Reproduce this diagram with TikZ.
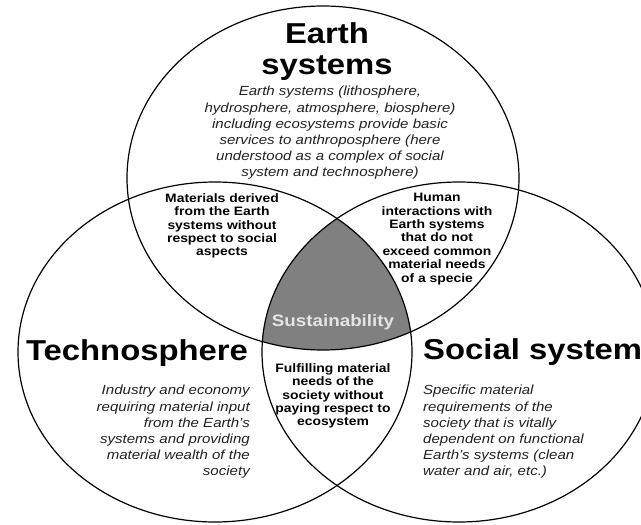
\documentclass[tikz,border=0pt]{standalone}
\usepackage{fontspec}
\setmainfont{Liberation Sans}[FakeStretch=1.14]
\usetikzlibrary{shapes.geometric}
\definecolor{susgray}{HTML}{808080}
\definecolor{suslight}{HTML}{E4E4E4}
\definecolor{desc}{HTML}{222222}
\tikzset{
  ring/.style={ellipse, draw=black, line width=1.2pt, inner sep=0pt, minimum width=394pt, minimum height=342pt},
  bigtitle/.style={font=\fontsize{28.8}{31}\selectfont\bfseries, inner sep=0pt, align=center},
  desctext/.style={font=\fontsize{13.2}{16.2}\selectfont\itshape, text=desc, inner sep=0pt},
  overlap/.style={font=\fontsize{12.2}{13.4}\selectfont\bfseries, inner sep=0pt, align=center},
}
\begin{document}
\begin{tikzpicture}[x=1pt,y=-1pt]
\useasboundingbox (0,0) rectangle (641,525);
% central intersection
\begin{scope}
  \clip (323,178) ellipse [x radius=196, y radius=172];
  \clip (215,352) ellipse [x radius=197, y radius=170];
  \fill[susgray] (459,352) ellipse [x radius=197, y radius=170];
\end{scope}
\node[ring, minimum width=392pt, minimum height=344pt] (earth) at (323,178) {};
\node[ring, minimum height=340pt] (techno) at (215,352) {};
\node[ring, minimum height=340pt] (social) at (459,352) {};

\node[bigtitle, anchor=base] (earthtitle) at (327,74) {Earth\\systems};
\node[desctext, align=center] (earthdesc) at (330,133) {Earth systems (lithosphere,\\hydrosphere, atmosphere, biosphere)\\including ecosystems provide basic\\services to anthroposphere (here\\understood as a complex of social\\system and technosphere)};

\node[overlap] (materials) at (222,226) {Materials derived\\from the Earth\\systems without\\respect to social\\aspects};
\node[overlap] (human) at (437,239) {Human\\interactions with\\Earth systems\\that do not\\exceed common\\material needs\\of a specie};
\node[overlap] (fulfil) at (333,396) {Fulfilling material\\needs of the\\society without\\paying respect to\\ecosystem};

\node[font=\fontsize{16.5}{18}\selectfont\bfseries, text=suslight, inner sep=0pt] (sus) at (333,322) {Sustainability};

\node[bigtitle, anchor=base] (technotitle) at (137,360) {Technosphere};
\node[desctext, align=right, anchor=east] (technodesc) at (250,432) {Industry and economy\\requiring material input\\from the Earth's\\systems and providing\\material wealth of the\\society};

\node[bigtitle, anchor=base west] (socialtitle) at (423,359) {Social system};
\node[desctext, align=left, anchor=west] (socialdesc) at (423,432) {Specific material\\requirements of the\\society that is vitally\\dependent on functional\\Earth's systems (clean\\water and air, etc.)};
\end{tikzpicture}
\end{document}
